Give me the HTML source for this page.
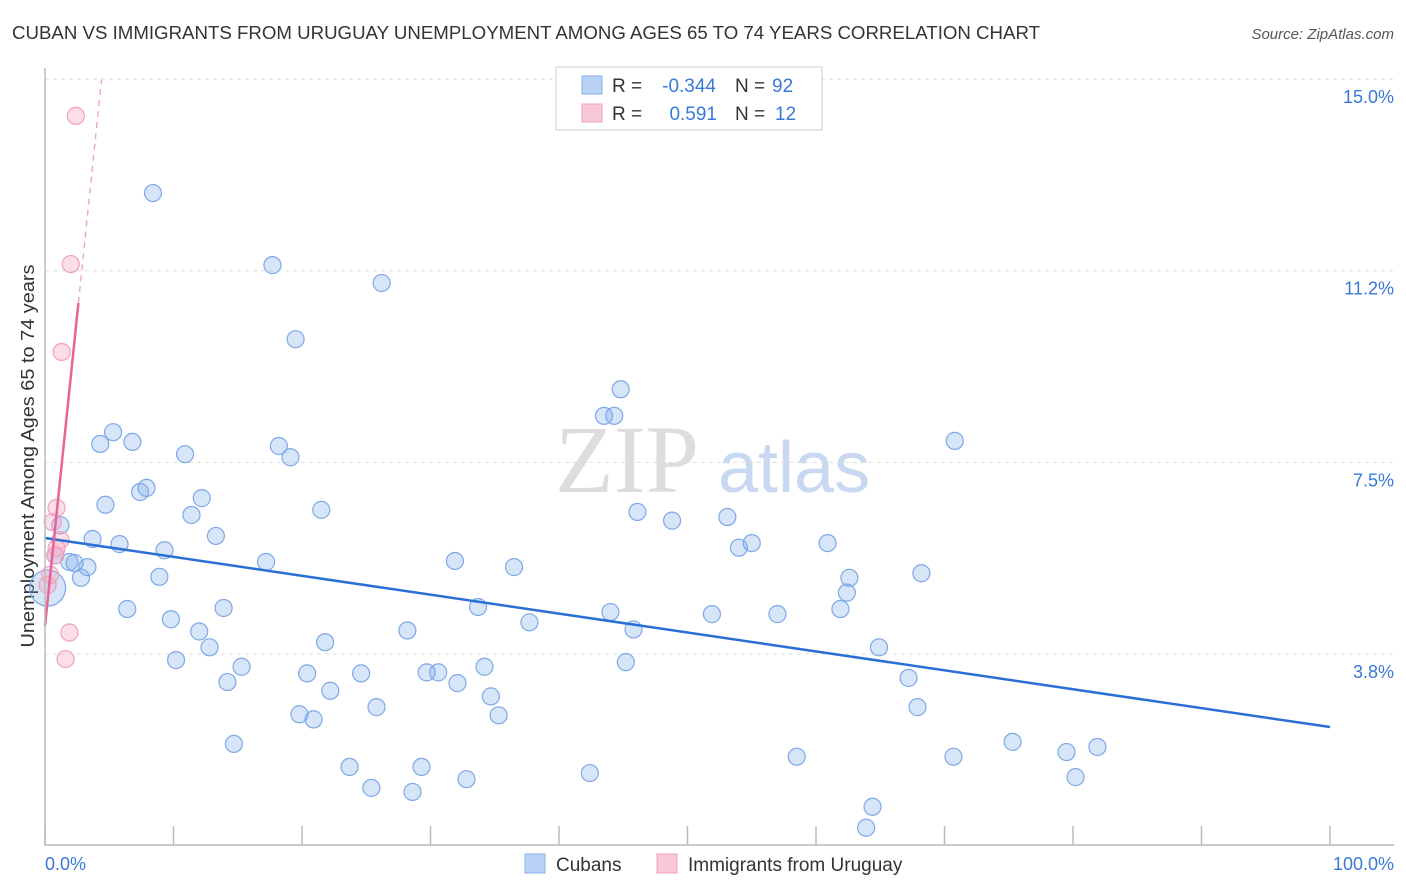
<!DOCTYPE html>
<html><head><meta charset="utf-8"><style>
body{margin:0;background:#fff;font-family:"Liberation Sans",sans-serif}
</style></head><body>
<svg id="chart" width="1406" height="892" xmlns="http://www.w3.org/2000/svg" style="display:block">
<text x="12" y="39" font-size="18" fill="#333" textLength="1028" lengthAdjust="spacingAndGlyphs">CUBAN VS IMMIGRANTS FROM URUGUAY UNEMPLOYMENT AMONG AGES 65 TO 74 YEARS CORRELATION CHART</text>
<text x="1394" y="39" font-size="15" fill="#555" text-anchor="end" font-style="italic">Source: ZipAtlas.com</text>
<text transform="translate(34,456) rotate(-90)" font-size="18" fill="#333" text-anchor="middle" textLength="383" lengthAdjust="spacingAndGlyphs">Unemployment Among Ages 65 to 74 years</text>
<text x="555" y="492" font-size="96" fill="#ddd" font-family="Liberation Serif">ZIP</text>
<text x="718" y="492" font-size="72" fill="#c8d8f0">atlas</text>
<g id="grid"></g><g id="xticks"></g><g id="pts"></g><g id="lines"></g>
<line x1="45" y1="68" x2="45" y2="846" stroke="#bbb" stroke-width="1.5"/>
<line x1="45" y1="845" x2="1394" y2="845" stroke="#bbb" stroke-width="1.5"/>
<text x="45" y="870" font-size="18" fill="#3a78d8">0.0%</text>
<text x="1394" y="870" font-size="18" fill="#3a78d8" text-anchor="end">100.0%</text>
<g font-size="19">
<rect x="556" y="67" width="266" height="63" fill="#fff" stroke="#ccc"/>
<rect x="582" y="76" width="20" height="18" fill="#b9d2f5" stroke="#8ab0e8"/>
<text x="612" y="92" fill="#333">R =</text>
<text x="716" y="92" fill="#3a78d8" text-anchor="end">-0.344</text>
<text x="735" y="92" fill="#333">N =</text>
<text x="772" y="92" fill="#3a78d8">92</text>
<rect x="582" y="104" width="20" height="18" fill="#f8c8d8" stroke="#eea0b8"/>
<text x="612" y="120" fill="#333">R =</text>
<text x="717" y="120" fill="#3a78d8" text-anchor="end">0.591</text>
<text x="735" y="120" fill="#333">N =</text>
<text x="775" y="120" fill="#3a78d8">12</text>
</g>
<g>
<rect x="525" y="854" width="20" height="19" fill="#b9d2f5" stroke="#8ab0e8"/>
<text x="556" y="871" font-size="19" fill="#333">Cubans</text>
<rect x="657" y="854" width="20" height="19" fill="#f8c8d8" stroke="#eea0b8"/>
<text x="688" y="871" font-size="19" fill="#333">Immigrants from Uruguay</text>
</g>
</svg>
<script>
const yTicks=[15,11.25,7.5,3.75];
const yTickLabels=["15.0%","11.2%","7.5%","3.8%"];
const xTicks=[0,10,20,30,40,50,60,70,80,90,100];
const cubanX=[8.4,17.7,26.2,19.5,44.8,43.5,44.3,70.8,5.3,4.3,6.8,10.9,18.2,19.1,7.9,7.4,12.2,4.7,11.4,21.5,46.1,48.8,53.1,1.2,13.3,3.7,5.8,55.0,54.0,60.9,9.3,0.8,2.3,3.3,17.2,31.9,36.5,8.9,2.8,62.6,68.2,62.4,33.7,6.4,13.9,44.0,51.9,57.0,61.9,9.8,37.7,12.0,28.2,45.8,21.8,12.8,64.9,10.2,45.2,15.3,34.2,20.4,24.6,29.7,30.6,14.2,32.1,67.2,22.2,34.7,25.8,19.8,20.9,35.3,67.9,14.7,75.3,81.9,79.5,58.5,70.7,23.7,29.3,42.4,80.2,32.8,25.4,28.6,64.4,63.9,1.9,0.2];
const cubanY=[12.77,11.36,11.01,9.91,8.93,8.41,8.41,7.92,8.09,7.86,7.90,7.66,7.82,7.60,7.00,6.92,6.80,6.67,6.47,6.57,6.53,6.36,6.43,6.27,6.06,6.00,5.90,5.92,5.83,5.92,5.78,5.68,5.53,5.45,5.55,5.57,5.45,5.26,5.24,5.24,5.33,4.95,4.67,4.63,4.65,4.57,4.53,4.53,4.63,4.43,4.37,4.19,4.21,4.23,3.98,3.88,3.88,3.63,3.59,3.50,3.50,3.37,3.37,3.39,3.39,3.20,3.18,3.28,3.03,2.92,2.71,2.57,2.47,2.55,2.71,1.99,2.03,1.93,1.83,1.74,1.74,1.54,1.54,1.42,1.34,1.30,1.13,1.05,0.76,0.35,5.55,5.04];
const uruX=[2.4,2.0,1.3,0.9,0.6,1.2,0.9,0.8,1.9,1.6,0.2,0.4];
const uruY=[14.28,11.38,9.66,6.61,6.33,5.98,5.82,5.68,4.17,3.65,5.10,5.30];
const cubanTrend=[6.02,2.32];
const uruTrend=[4.3,2.43];
const NS="http://www.w3.org/2000/svg";
const xs=v=>45+v*12.85, ys=v=>845.6-v*51.1;
function mk(t,a,p){const e=document.createElementNS(NS,t);for(const k in a)e.setAttribute(k,a[k]);document.getElementById(p).appendChild(e);return e;}
yTicks.forEach((v,i)=>{
 const l=mk('line',{x1:45,x2:1394,y1:ys(v),y2:ys(v),stroke:'#ddd','stroke-dasharray':'4,4'},'grid');
 
 
 const t=mk('text',{x:1394,y:ys(v)+24,'font-size':18,fill:'#3a78d8','text-anchor':'end'},'grid');
 t.textContent=yTickLabels[i];
 
 
});
xTicks.forEach(v=>{
 const l=mk('line',{x1:xs(v),x2:xs(v),y1:826,y2:845,stroke:'#bbb','stroke-width':1.5},'xticks');
 
 
});
cubanX.forEach((v,i)=>{
 const big=i===cubanX.length-1;
 const c=mk('circle',{cx:xs(v),cy:ys(cubanY[i]),r:big?18:8.5,fill:'rgba(110,160,235,0.28)',stroke:'#7ea8e6','stroke-width':1.2},'pts');
 
 
});
uruX.forEach((v,i)=>{
 const c=mk('circle',{cx:xs(v),cy:ys(uruY[i]),r:8.5,fill:'rgba(245,160,190,0.35)',stroke:'#f0a0bc','stroke-width':1.2},'pts');
 
 
});
const b=mk('line',{x1:xs(0),y1:ys(cubanTrend[0]),x2:xs(100),y2:ys(cubanTrend[1]),stroke:'#2a6fd6','stroke-width':2.5},'lines');


const p1=mk('line',{x1:xs(0),y1:ys(uruTrend[0]),x2:xs(2.6),y2:ys(uruTrend[0]+uruTrend[1]*2.6),stroke:'#e8639a','stroke-width':2.5},'lines');


const p2=mk('line',{x1:xs(2.6),y1:ys(uruTrend[0]+uruTrend[1]*2.6),x2:xs(4.4),y2:ys(uruTrend[0]+uruTrend[1]*4.4),stroke:'#eda0bc','stroke-width':1.3,'stroke-dasharray':'6,5'},'lines');


</script>
</body></html>
